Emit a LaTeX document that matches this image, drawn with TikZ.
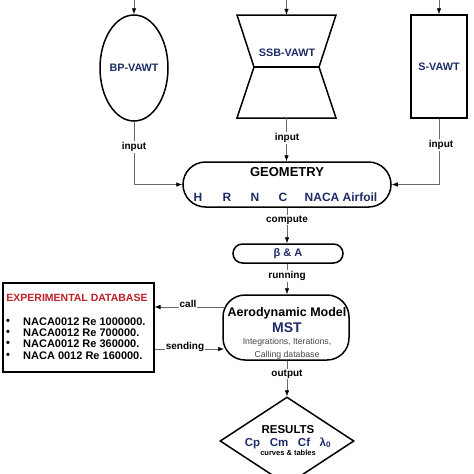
\documentclass[tikz,border=0pt]{standalone}
\usepackage{fontspec}
\setmainfont{Liberation Sans}
\usetikzlibrary{shapes.geometric,arrows.meta}
\definecolor{navy}{RGB}{30,44,102}
\definecolor{dbred}{RGB}{192,30,42}
\definecolor{connc}{RGB}{105,105,105}
\definecolor{smallc}{RGB}{70,70,70}
\begin{document}
\begin{tikzpicture}[x=1pt,y=-1pt,
  shapeline/.style={draw=black,line width=1.5pt,inner sep=0pt},
  shapelbl/.style={font=\fontsize{10.8}{12}\selectfont\bfseries,text=navy,inner sep=0pt},
  conn/.style={draw=connc,line width=0.6pt,-{Latex[length=6pt,width=4.5pt,color=black]}},
  edgelbl/.style={font=\fontsize{10}{11}\selectfont\bfseries,fill=white,inner sep=1pt},
  bigtitle/.style={font=\fontsize{13}{14}\selectfont\bfseries,inner sep=0pt},
  navyrow/.style={font=\fontsize{12}{13}\selectfont\bfseries,text=navy,inner sep=0pt},
  dbitem/.style={font=\fontsize{11}{12}\selectfont\bfseries,anchor=west,inner sep=0pt},
]
\useasboundingbox (0,0) rectangle (474,474);
\clip (0,0) rectangle (474,474);

% top shapes
\node[shapeline,ellipse,minimum width=68pt,minimum height=106pt] (bp) at (134,68) {};
\node[shapelbl] (bpl) at (134,68) {BP-VAWT};

\node[minimum width=99pt,minimum height=103pt,inner sep=0pt] (ssb) at (286.5,66.5) {};
\draw[line width=1.5pt,line join=miter] (237,15) -- (336,15) -- (319,67) -- (336,118) -- (237,118) -- (254,67) -- cycle;
\draw[line width=1.5pt] (254,67) -- (319,67);
\node[shapelbl] (ssbl) at (287,53) {SSB-VAWT};

\node[shapeline,rectangle,minimum width=56pt,minimum height=103pt] (sv) at (439,66.5) {};
\node[shapelbl] (svl) at (439,66.5) {S-VAWT};

% top arrows
\coordinate (bptop) at (134,0);
\coordinate (ssbtop) at (286.5,0);
\coordinate (svtop) at (439,0);
\draw[conn] (bptop) -- (bp.north);
\draw[conn] (ssbtop) -- (ssb.north);
\draw[conn] (svtop) -- (sv.north);

% geometry
\node[shapeline,rectangle,rounded corners=22.5pt,minimum width=208pt,minimum height=45pt] (geo) at (287,184.5) {};
\node[bigtitle] (geot) at (287,172) {GEOMETRY};
\node[navyrow] (gh) at (198,197) {H};
\node[navyrow] (gr) at (227,197) {R};
\node[navyrow] (gn) at (255,197) {N};
\node[navyrow] (gc) at (283,197) {C};
\node[navyrow] (gna) at (341,197) {NACA Airfoil};

\draw[conn] (bp.south) |- (geo.west);
\draw[conn] (ssb.south) -- (ssb.south |- geo.north);
\draw[conn] (sv.south) |- (geo.east);
\node[edgelbl] (in1) at (134,147) {input};
\node[edgelbl] (in2) at (287,138) {input};
\node[edgelbl] (in3) at (441,145) {input};

% beta & A
\node[shapeline,rectangle,rounded corners=9.5pt,minimum width=110pt,minimum height=19pt] (ba) at (288,253.5) {};
\node[font=\fontsize{11}{12}\selectfont\bfseries,text=navy,inner sep=0pt] (bal) at (288,253.5) {β \& A};
\draw[conn] (geo.south) -- (ba.north -| geo.south);
\node[edgelbl] (cmp) at (287,220) {compute};

% aerodynamic model
\node[shapeline,rectangle,rounded corners=22pt,minimum width=126pt,minimum height=65pt] (aero) at (286,327.5) {};
\node[font=\fontsize{12.5}{13}\selectfont\bfseries,inner sep=0pt] (aerot) at (287,313) {Aerodynamic Model};
\node[font=\fontsize{14}{15}\selectfont\bfseries,text=navy,inner sep=0pt] (mst) at (287,328) {MST};
\node[font=\fontsize{8.7}{9}\selectfont,text=smallc,inner sep=0pt] (integ) at (287,342) {Integrations, Iterations,};
\node[font=\fontsize{8.7}{9}\selectfont,text=smallc,inner sep=0pt] (calldb) at (287,355) {Calling database};
\draw[conn] (ba.south -| geo.south) -- (aero.north -| geo.south);
\node[edgelbl] (run) at (287,276) {running};

% results diamond
\node[shapeline,diamond,minimum width=134pt,minimum height=88pt] (res) at (287,441) {};
\node[font=\fontsize{11.5}{12}\selectfont\bfseries,inner sep=0pt] (rest) at (288,430) {RESULTS};
\node[font=\fontsize{11.5}{12}\selectfont\bfseries,text=navy,inner sep=0pt] (resc) at (288,443) {Cp\ \ \ Cm\ \ \ Cf\ \ \ λ\textsubscript{0}};
\node[font=\fontsize{7.5}{8}\selectfont\bfseries,inner sep=0pt] (resct) at (288,453) {curves \& tables};
\draw[conn] (aero.south -| geo.south) -- (res.north -| geo.south);
\node[edgelbl] (outl) at (287,374) {output};

% experimental database
\node[draw=black,line width=2pt,rectangle,minimum width=151pt,minimum height=89pt,inner sep=0pt] (db) at (78,327.5) {};
\node[font=\fontsize{10.5}{11}\selectfont\bfseries,text=dbred,inner sep=0pt] (dbt) at (77,298) {EXPERIMENTAL DATABASE};
\node[dbitem] (b1) at (6,322) {•};
\node[dbitem] (b2) at (6,333) {•};
\node[dbitem] (b3) at (6,344) {•};
\node[dbitem] (b4) at (6,356) {•};
\node[dbitem] (i1) at (23,322) {NACA0012 Re 1000000.};
\node[dbitem] (i2) at (23,333) {NACA0012 Re 700000.};
\node[dbitem] (i3) at (23,344) {NACA0012 Re 360000.};
\node[dbitem] (i4) at (23,356) {NACA 0012 Re 160000.};

\coordinate (callstart) at (225,307);
\coordinate (sendend) at (224,349);
\draw[conn] (callstart) -- (callstart -| db.east);
\draw[conn] (sendend -| db.east) -- (sendend);
\node[edgelbl] (calll) at (188,304) {call};
\node[edgelbl] (sendl) at (185,347) {sending};
\end{tikzpicture}
\end{document}
